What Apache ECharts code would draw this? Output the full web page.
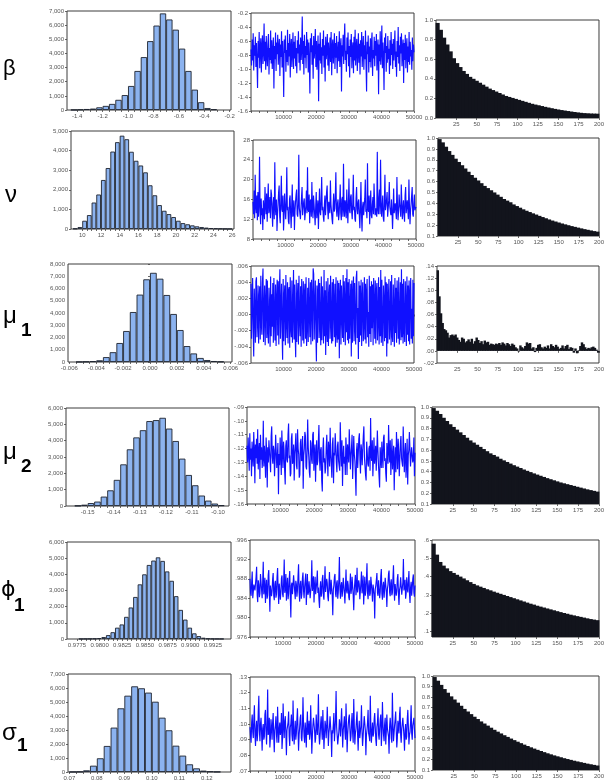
<!DOCTYPE html>
<html>
<head>
<meta charset="utf-8">
<script src="https://cdn.jsdelivr.net/npm/echarts@6/dist/echarts.min.js"></script>
<style>
  html, body { margin: 0; padding: 0; background: #fff; }
  #main { width: 607px; height: 781px; }
</style>
</head>
<body>
<div id="main"></div>
<script>
// histogram bins (centres) and counts
var betaBins = [-1.425,-1.375,-1.325,-1.275,-1.225,-1.175,-1.125,-1.075,-1.025,-0.975,-0.925,-0.875,-0.825,-0.775,-0.725,-0.675,-0.625,-0.575,-0.525,-0.475,-0.425,-0.375,-0.325];
var betaCounts = [10,30,70,100,190,290,430,720,1055,1700,2760,3740,4870,5970,6830,6400,5680,4340,2760,1440,550,140,50];

var nuBins = [9.25,9.75,10.25,10.75,11.25,11.75,12.25,12.75,13.25,13.75,14.25,14.75,15.25,15.75,16.25,16.75,17.25,17.75,18.25,18.75,19.25,19.75,20.25,20.75,21.25,21.75,22.25,22.75,23.25,23.75,24.25,24.75,25.25,25.75];
var nuCounts = [20,100,420,710,1350,1760,2500,3110,3950,4430,4760,4580,3940,3480,3240,2890,2230,1720,1220,930,760,610,420,300,240,185,135,100,70,45,30,18,10,5];

var mu1Bins = [-0.00525,-0.00475,-0.00425,-0.00375,-0.00325,-0.00275,-0.00225,-0.00175,-0.00125,-0.00075,-0.00025,0.00025,0.00075,0.00125,0.00175,0.00225,0.00275,0.00325,0.00375,0.00425,0.00475,0.00525];
var mu1Counts = [10,30,70,140,400,800,1550,2530,4080,5500,6750,7280,6800,5470,3920,2610,1300,700,330,160,80,30];

var mu2Bins = [-0.15375,-0.15125,-0.14875,-0.14625,-0.14375,-0.14125,-0.13875,-0.13625,-0.13375,-0.13125,-0.12875,-0.12625,-0.12375,-0.12125,-0.11875,-0.11625,-0.11375,-0.11125,-0.10875,-0.10625,-0.10375,-0.10125,-0.09875];
var mu2Counts = [20,80,180,270,575,960,1600,2550,3470,4200,4640,5200,5260,5400,4740,3980,2900,1900,1270,640,330,150,50];

var phi1Bins = [0.97795,0.97845,0.97895,0.97945,0.97995,0.98045,0.98095,0.98145,0.98195,0.98245,0.98295,0.98345,0.98395,0.98445,0.98495,0.98545,0.98595,0.98645,0.98695,0.98745,0.98795,0.98845,0.98895,0.98945,0.98995,0.99045,0.99095,0.99145,0.99195,0.99245,0.99295,0.99345];
var phi1Counts = [5,10,15,25,50,120,240,420,700,900,1370,1950,2600,3380,4000,4580,4850,5050,4830,4180,3600,2650,1800,1200,700,350,180,80,30,15,8,4];

var sigma1Bins = [0.07125,0.07375,0.07625,0.07875,0.08125,0.08375,0.08625,0.08875,0.09125,0.09375,0.09625,0.09875,0.10125,0.10375,0.10625,0.10875,0.11125,0.11375,0.11625,0.11875,0.12125,0.12375];
var sigma1Counts = [5,20,120,450,980,1860,3170,4550,5450,6120,5980,5670,5020,3880,2980,1880,1170,550,260,100,40,15];

// trace plots, 300 draws read across 0..50000 iterations
var betaTrace = [-.72,-.95,-.58,-.88,-.49,-1.02,-.66,-.81,-.54,-.97,
  -.63,-.90,-1.27,-.60,-.84,-.47,-.99,-.71,-.56,-1.05,
  -.68,-.52,-.93,-.75,-.35,-.89,-.61,-1.01,-.53,-.80,
  -.96,-.64,-.50,-1.08,-.70,-.87,-.45,-.92,-.59,-1.00,
  -.74,-.55,-1.28,-.67,-.86,-.48,-1.03,-.62,-.79,-.51,
  -.94,-.69,-.57,-1.10,-.65,-.83,-.46,-.98,-.60,-.88,
  -1.40,-.58,-.77,-.52,-1.04,-.73,-.90,-.44,-.95,-.63,
  -.82,-.50,-1.12,-.68,-.57,-.97,-.74,-.48,-1.00,-.61,
  -.85,-.53,-.96,-.70,-1.06,-.59,-.78,-.46,-.91,-.65,
  -1.02,-.55,-.87,-.72,-.25,-.93,-.60,-1.08,-.51,-.84,
  -.67,-.99,-.47,-.80,-.58,-1.05,-.62,-.89,-1.35,-.56,
  -.76,-.49,-.94,-.66,-1.14,-.53,-.85,-.71,-.43,-.97,
  -.60,-1.01,-.74,-.52,-1.46,-.64,-.88,-.48,-.92,-.69,
  -1.07,-.57,-.81,-.45,-.98,-.66,-1.18,-.54,-.86,-.73,
  -.50,-.95,-.62,-1.03,-.77,-.55,-.90,-.47,-1.09,-.68,
  -.58,-.92,-.72,-.49,-1.00,-.63,-.84,-.53,-1.06,-.75,
  -.61,-.89,-.46,-.97,-.70,-.56,-1.32,-.66,-.82,-.51,
  -.93,-.60,-.35,-.87,-.74,-1.04,-.55,-.79,-.48,-.96,
  -.67,-1.12,-.58,-.83,-.50,-.99,-.71,-.62,-1.06,-.54,
  -.88,-.44,-.95,-.69,-.57,-1.03,-.76,-.49,-.91,-.64,
  -1.08,-.59,-.82,-.47,-.97,-.72,-.53,-1.01,-.66,-.86,
  -.45,-.93,-1.32,-.61,-.79,-.52,-1.05,-.68,-.90,-.56,
  -.98,-.63,-.48,-1.10,-.73,-.85,-.54,-.96,-.60,-.81,
  -.50,-1.02,-.70,-.58,-1.36,-.65,-.89,-.46,-.94,-.74,
  -.38,-.99,-.62,-.84,-1.30,-.55,-.77,-.49,-1.04,-.67,
  -.91,-.53,-.86,-.71,-1.07,-.59,-.95,-.47,-.80,-.64,
  -1.00,-.57,-.88,-.69,-.45,-.97,-.75,-1.11,-.60,-.83,
  -.40,-.92,-.66,-1.03,-.54,-.78,-.49,-.96,-.72,-.58,
  -1.20,-.63,-.87,-.51,-.99,-.70,-.56,-1.05,-.68,-.90,
  -.47,-.94,-.61,-.82,-.73,-1.01,-.55,-.89,-.65,-.76];

var nuTrace = [15.5,13.0,17.8,12.2,21.0,14.5,13.2,16.8,11.8,17.5,
  12.5,15.0,24.6,13.5,11.0,16.2,12.8,14.2,9.8,15.8,
  16.0,12.0,18.5,14.8,13.0,17.2,11.5,15.5,19.2,13.2,
  14.0,16.5,12.2,18.0,17.0,13.5,10.5,15.2,16.5,12.0,
  23.5,14.2,12.8,16.0,9.6,13.0,15.0,17.5,18.8,12.5,
  11.2,15.8,20.8,14.0,13.5,16.8,9.7,12.8,17.2,14.5,
  12.0,15.2,22.5,13.8,14.5,11.5,11.0,16.0,16.8,13.2,
  10.2,14.8,19.0,12.5,13.2,15.8,9.8,13.5,15.5,17.0,
  18.0,13.0,12.5,15.2,25.0,14.2,14.0,12.0,11.8,16.5,
  18.5,12.8,13.0,15.5,16.2,11.8,11.5,14.8,17.8,13.2,
  22.5,14.0,13.5,17.0,11.2,15.5,16.0,12.5,19.5,14.2,
  12.2,16.8,15.0,13.0,10.8,14.5,17.5,12.2,13.8,15.8,
  10.0,14.2,18.2,13.5,12.8,16.0,20.5,13.8,14.5,12.5,
  11.5,15.0,16.8,12.8,13.0,17.5,18.8,14.0,12.0,15.5,
  15.2,13.2,19.8,15.0,13.5,12.0,11.0,14.8,17.2,13.5,
  14.2,16.8,21.5,14.0,12.5,15.2,16.0,11.8,13.0,15.5,
  19.0,13.2,11.8,16.0,16.5,12.5,23.2,14.0,12.5,15.8,
  14.8,12.2,18.0,14.5,11.2,15.0,20.2,13.8,13.2,16.5,
  17.0,13.5,12.0,15.2,21.0,13.8,14.5,12.0,11.5,16.2,
  18.5,14.0,13.0,15.5,16.0,12.8,10.2,14.2,19.5,13.0,
  9.5,14.5,15.5,12.8,12.8,16.2,20.0,13.5,14.0,12.2,
  23.3,14.0,13.5,16.8,11.0,14.5,17.8,12.8,12.2,15.0,
  16.5,13.0,19.2,15.8,12.8,14.2,14.5,12.5,25.6,14.0,
  13.0,16.5,18.0,13.0,24.0,15.2,12.5,14.8,16.8,12.2,
  11.5,15.5,21.0,13.8,14.0,16.0,17.5,12.5,12.2,15.8,
  19.5,14.5,13.5,12.8,16.0,13.5,10.0,14.0,18.2,13.2,
  12.8,15.2,15.5,12.0,20.5,14.8,11.8,13.5,17.0,15.0,
  14.2,12.5,19.0,15.5,12.0,14.0,15.8,13.0,11.5,16.8,
  18.5,13.2,13.0,15.8,16.2,12.0,20.0,14.5,11.0,13.8,
  15.0,16.8,18.5,13.0,12.5,15.2,17.0,13.8,14.0,14.5];

var mu1Trace = [.0038,-.0030,.0012,.0045,-.0018,-.0052,.0032,.0005,-.0035,.0041,
  .0046,-.0028,-.0008,.0036,-.0036,.0020,.0035,-.0031,.0048,-.0012,
  -.0025,.0040,.0057,-.0034,.0002,.0036,-.0038,.0015,.0044,-.0029,
  .0042,-.0020,-.0036,.0033,.0008,-.0040,.0047,-.0027,.0025,-.0015,
  .0039,-.0035,.0045,-.0005,-.0032,.0037,-.0039,.0018,.0043,-.0026,
  .0041,-.0037,.0028,.0056,-.0030,.0010,.0038,-.0022,-.0056,.0044,
  -.0033,.0022,.0036,-.0038,.0049,-.0010,-.0029,.0040,-.0036,.0030,
  .0034,-.0041,.0046,-.0016,-.0028,.0042,-.0035,.0008,.0055,-.0031,
  .0037,-.0025,-.0053,.0043,-.0034,.0020,.0039,-.0037,.0048,-.0006,
  -.0027,.0035,-.0040,.0044,.0012,-.0032,.0041,-.0036,.0026,.0038,
  -.0030,.0046,-.0039,-.0014,.0033,-.0034,.0045,.0004,-.0028,.0040,
  -.0037,.0043,.0018,-.0033,.0057,.0050,-.0031,.0010,.0042,-.0024,
  -.0058,.0036,-.0035,.0028,.0044,-.0029,.0039,-.0012,-.0038,.0047,
  -.0032,.0035,.0006,-.0036,.0055,-.0027,.0030,-.0050,.0041,-.0018,
  -.0034,.0045,-.0039,.0022,.0037,-.0030,.0048,-.0008,-.0036,.0040,
  -.0033,.0044,.0014,-.0028,.0038,-.0040,.0046,-.0020,-.0035,.0042,
  -.0031,.0039,-.0054,.0024,.0043,-.0037,.0036,.0002,-.0029,.0049,
  -.0034,.0041,.0016,-.0038,.0045,-.0022,.0056,-.0032,.0040,-.0036,
  .0044,-.0030,.0010,.0038,-.0052,.0042,-.0035,.0025,.0047,-.0033,
  .0039,-.0015,-.0037,.0045,.0054,-.0029,.0008,-.0055,.0041,-.0034,
  .0036,-.0026,.0043,-.0039,.0019,.0040,-.0033,-.0010,.0046,-.0031,
  .0038,-.0036,.0027,.0044,-.0028,.0003,-.0040,.0048,-.0024,.0035,
  -.0034,.0041,-.0017,.0037,-.0038,.0045,.0012,-.0030,.0042,-.0036,
  .0030,.0039,-.0032,-.0007,.0046,-.0037,.0034,-.0027,.0055,-.0035,
  .0043,-.0021,-.0039,.0036,.0015,-.0033,.0047,-.0029,.0040,-.0052,
  .0038,-.0036,.0021,.0044,-.0031,-.0011,.0041,-.0038,.0049,-.0026,
  -.0034,.0037,.0005,-.0040,.0045,-.0023,.0033,-.0035,.0042,.0017,
  -.0030,.0046,-.0037,-.0009,.0040,-.0032,.0056,-.0028,.0038,-.0036,
  .0044,-.0019,-.0034,.0041,.0013,-.0039,.0047,-.0025,.0036,-.0033,
  .0042,-.0037,.0024,.0045,-.0030,.0007,-.0036,.0043,-.0027,.0039];

var mu2Trace = [-.118,-.130,-.112,-.124,-.136,-.109,-.128,-.120,-.140,-.115,
  -.125,-.133,-.108,-.121,-.145,-.117,-.127,-.113,-.131,-.106,
  -.135,-.122,-.116,-.142,-.110,-.128,-.119,-.134,-.127,-.100,
  -.133,-.118,-.126,-.141,-.112,-.123,-.148,-.119,-.130,-.114,
  -.113,-.129,-.137,-.111,-.104,-.126,-.131,-.118,-.121,-.140,
  -.127,-.110,-.111,-.134,-.126,-.116,-.153,-.124,-.132,-.112,
  -.124,-.139,-.107,-.122,-.134,-.115,-.121,-.136,-.146,-.118,
  -.114,-.128,-.130,-.110,-.102,-.127,-.125,-.140,-.138,-.113,
  -.109,-.131,-.128,-.117,-.143,-.124,-.118,-.109,-.132,-.135,
  -.106,-.120,-.124,-.141,-.139,-.116,-.113,-.129,-.127,-.111,
  -.149,-.125,-.120,-.108,-.111,-.133,-.135,-.122,-.099,-.119,
  -.126,-.137,-.141,-.114,-.116,-.128,-.131,-.110,-.108,-.136,
  -.123,-.117,-.144,-.126,-.114,-.132,-.129,-.115,-.103,-.127,
  -.136,-.121,-.119,-.143,-.151,-.122,-.112,-.130,-.127,-.138,
  -.134,-.119,-.110,-.127,-.140,-.115,-.121,-.133,-.105,-.124,
  -.131,-.141,-.117,-.112,-.145,-.123,-.125,-.109,-.108,-.130,
  -.137,-.118,-.115,-.129,-.128,-.136,-.101,-.120,-.133,-.114,
  -.147,-.126,-.118,-.131,-.126,-.139,-.112,-.122,-.139,-.117,
  -.122,-.130,-.106,-.119,-.135,-.125,-.119,-.110,-.142,-.128,
  -.111,-.124,-.129,-.140,-.154,-.121,-.116,-.134,-.124,-.113,
  -.109,-.128,-.138,-.117,-.121,-.132,-.131,-.111,-.104,-.126,
  -.127,-.139,-.143,-.115,-.114,-.131,-.133,-.120,-.118,-.136,
  -.098,-.125,-.129,-.114,-.140,-.127,-.112,-.131,-.125,-.118,
  -.136,-.123,-.107,-.121,-.132,-.140,-.148,-.119,-.120,-.134,
  -.115,-.126,-.134,-.112,-.110,-.129,-.127,-.138,-.144,-.116,
  -.117,-.131,-.103,-.122,-.130,-.114,-.139,-.126,-.113,-.135,
  -.126,-.118,-.150,-.129,-.119,-.137,-.108,-.121,-.135,-.113,
  -.122,-.140,-.141,-.116,-.111,-.127,-.128,-.133,-.104,-.120,
  -.137,-.124,-.116,-.141,-.131,-.113,-.146,-.125,-.121,-.108,
  -.109,-.133,-.134,-.119,-.118,-.130,-.127,-.112,-.140,-.123];

var phi1Trace = [.9880,.9851,.9845,.9872,.9895,.9840,.9838,.9868,.9872,.9856,
  .9852,.9884,.9905,.9846,.9832,.9877,.9868,.9842,.9850,.9890,
  .9889,.9857,.9840,.9874,.9915,.9848,.9858,.9882,.9830,.9861,
  .9878,.9839,.9846,.9887,.9898,.9853,.9812,.9866,.9870,.9844,
  .9855,.9879,.9892,.9845,.9836,.9869,.9876,.9841,.9848,.9883,
  .9902,.9857,.9828,.9870,.9866,.9837,.9853,.9881,.9887,.9849,
  .9842,.9873,.9920,.9851,.9860,.9890,.9835,.9862,.9882,.9838,
  .9850,.9879,.9896,.9844,.9800,.9866,.9872,.9848,.9845,.9887,
  .9885,.9854,.9838,.9876,.9869,.9843,.9856,.9884,.9910,.9852,
  .9833,.9868,.9876,.9839,.9849,.9881,.9893,.9856,.9840,.9863,
  .9864,.9891,.9826,.9858,.9890,.9847,.9852,.9875,.9879,.9840,
  .9843,.9870,.9918,.9855,.9858,.9885,.9831,.9862,.9884,.9848,
  .9847,.9874,.9897,.9851,.9862,.9836,.9820,.9860,.9875,.9843,
  .9851,.9880,.9888,.9845,.9837,.9871,.9906,.9853,.9855,.9880,
  .9871,.9843,.9834,.9866,.9894,.9856,.9848,.9878,.9880,.9846,
  .9805,.9858,.9866,.9884,.9890,.9849,.9842,.9871,.9877,.9839,
  .9853,.9878,.9925,.9858,.9839,.9866,.9873,.9843,.9857,.9882,
  .9886,.9851,.9829,.9864,.9899,.9855,.9850,.9876,.9867,.9842,
  .9836,.9865,.9891,.9849,.9859,.9884,.9882,.9846,.9815,.9857,
  .9874,.9888,.9846,.9860,.9903,.9852,.9852,.9877,.9869,.9838,
  .9840,.9872,.9895,.9850,.9862,.9887,.9827,.9856,.9884,.9845,
  .9856,.9880,.9912,.9851,.9838,.9866,.9877,.9845,.9850,.9884,
  .9888,.9854,.9833,.9868,.9870,.9848,.9798,.9859,.9866,.9878,
  .9892,.9851,.9845,.9877,.9880,.9840,.9853,.9885,.9900,.9849,
  .9837,.9866,.9874,.9841,.9859,.9882,.9886,.9853,.9822,.9859,
  .9868,.9890,.9897,.9852,.9844,.9871,.9879,.9846,.9851,.9880,
  .9908,.9860,.9835,.9869,.9872,.9845,.9855,.9881,.9890,.9848,
  .9826,.9857,.9864,.9883,.9885,.9847,.9848,.9873,.9921,.9856,
  .9858,.9878,.9839,.9850,.9883,.9861,.9852,.9876,.9896,.9849,
  .9830,.9862,.9874,.9845,.9861,.9880,.9889,.9851,.9843,.9866];

var sigma1Trace = [.098,.092,.088,.101,.106,.095,.091,.104,.112,.093,
  .086,.097,.102,.089,.094,.108,.118,.096,.089,.100,
  .104,.094,.083,.097,.100,.090,.092,.106,.109,.095,
  .087,.099,.122,.093,.095,.104,.085,.091,.103,.098,
  .090,.101,.107,.092,.082,.096,.099,.105,.093,.088,
  .111,.098,.088,.097,.101,.093,.096,.107,.084,.091,
  .113,.099,.091,.102,.105,.094,.080,.096,.097,.101,
  .108,.092,.086,.098,.100,.106,.093,.089,.115,.097,
  .087,.095,.102,.090,.094,.103,.110,.096,.083,.093,
  .098,.104,.106,.091,.089,.097,.117,.100,.092,.088,
  .101,.096,.085,.099,.108,.093,.095,.102,.090,.094,
  .112,.097,.081,.092,.099,.104,.104,.096,.088,.091,
  .106,.098,.093,.101,.119,.094,.087,.092,.100,.105,
  .096,.090,.109,.097,.084,.093,.102,.099,.091,.098,
  .111,.099,.086,.094,.098,.105,.105,.093,.079,.096,
  .094,.100,.107,.089,.090,.103,.121,.098,.097,.087,
  .088,.095,.103,.099,.092,.091,.110,.097,.085,.096,
  .100,.105,.095,.090,.113,.099,.082,.093,.099,.104,
  .106,.097,.089,.092,.101,.107,.094,.088,.116,.099,
  .087,.094,.097,.103,.108,.093,.083,.096,.102,.091,
  .091,.099,.112,.095,.086,.092,.099,.105,.105,.096,
  .080,.093,.096,.101,.109,.094,.092,.089,.118,.098,
  .088,.095,.101,.092,.094,.103,.107,.098,.090,.086,
  .098,.101,.110,.093,.090,.097,.103,.106,.086,.094,
  .114,.100,.093,.089,.100,.104,.087,.095,.106,.097,
  .096,.092,.081,.098,.104,.099,.091,.088,.120,.101,
  .089,.094,.099,.103,.108,.096,.085,.091,.102,.098,
  .094,.106,.111,.093,.088,.097,.097,.104,.105,.092,
  .083,.096,.100,.090,.092,.103,.109,.098,.087,.093,
  .095,.101,.112,.094,.090,.099,.098,.104,.097,.091];

// autocorrelations, lags 2,6,...,198 (mu1: lags 1,3,...,199)
var betaAcf = [0.97,0.90,0.82,0.75,0.68,0.61,0.56,0.52,0.48,0.45,0.42,0.40,0.38,0.36,0.34,0.32,0.30,0.285,0.27,0.255,
  0.24,0.225,0.215,0.205,0.195,0.185,0.175,0.165,0.155,0.145,0.137,0.13,0.122,0.114,0.107,0.10,0.093,0.087,0.081,0.076,
  0.071,0.066,0.061,0.057,0.053,0.05,0.048,0.046,0.045,0.044];
var nuAcf = [0.99,0.96,0.92,0.88,0.845,0.81,0.78,0.75,0.72,0.69,0.66,0.635,0.61,0.585,0.56,0.54,0.52,0.50,0.48,0.46,
  0.44,0.425,0.41,0.39,0.375,0.36,0.345,0.332,0.32,0.308,0.297,0.285,0.274,0.263,0.252,0.242,0.233,0.224,0.215,0.207,
  0.199,0.191,0.184,0.177,0.17,0.163,0.157,0.151,0.145,0.14];
var mu1Acf = [.133,.090,.062,.046,.036,.034,.030,.022,.026,.027,.025,.027,.022,.018,.015,.022,.020,.014,.016,.019,
  .015,.020,.012,.016,.022,.018,.013,.016,.011,.017,.014,.015,.010,.012,.011,.010,.012,.011,.013,.010,
  .014,.012,.009,.013,.011,.008,.012,.010,.006,.004,-.001,.009,.006,.004,.008,.014,.012,.013,.004,.006,
  -.002,.005,.010,.011,.006,.004,.007,.005,.009,.004,.011,.008,.006,.010,.007,.003,.005,.009,.004,.008,
  .010,.003,.006,.005,-.003,.004,-.004,.001,.008,.014,.011,.006,.003,.005,.004,.006,.007,.005,.002,-.003];
var mu2Acf = [0.99,0.965,0.935,0.90,0.87,0.84,0.815,0.79,0.765,0.74,0.715,0.69,0.67,0.65,0.63,0.61,0.59,0.57,0.555,0.54,
  0.52,0.505,0.49,0.475,0.46,0.447,0.434,0.42,0.408,0.396,0.384,0.373,0.362,0.351,0.34,0.33,0.32,0.31,0.30,0.292,
  0.284,0.276,0.268,0.26,0.252,0.244,0.236,0.229,0.222,0.215];
var phi1Acf = [0.58,0.52,0.48,0.46,0.445,0.43,0.42,0.41,0.40,0.39,0.38,0.37,0.36,0.352,0.345,0.338,0.331,0.325,0.318,0.312,
  0.306,0.30,0.294,0.288,0.282,0.276,0.27,0.264,0.258,0.252,0.247,0.241,0.236,0.231,0.226,0.221,0.216,0.211,0.206,0.201,
  0.197,0.192,0.188,0.184,0.18,0.176,0.172,0.168,0.165,0.162];
var sigma1Acf = [0.99,0.955,0.915,0.875,0.84,0.805,0.775,0.745,0.715,0.685,0.66,0.635,0.61,0.588,0.565,0.545,0.525,0.505,0.485,0.467,
  0.45,0.433,0.417,0.401,0.386,0.371,0.357,0.343,0.33,0.317,0.305,0.293,0.282,0.271,0.26,0.25,0.24,0.231,0.222,0.213,
  0.205,0.197,0.189,0.182,0.175,0.168,0.161,0.155,0.149,0.143];

// tick labels
var betaXTicks = [-1.4,-1.2,-1.0,-0.8,-0.6,-0.4,-0.2];
var nuXTicks = [10,12,14,16,18,20,22,24,26];
var mu1XTicks = [-0.006,-0.004,-0.002,0,0.002,0.004,0.006];
var mu2XTicks = [-0.15,-0.14,-0.13,-0.12,-0.11,-0.10];
var phi1XTicks = [0.9775,0.98,0.9825,0.985,0.9875,0.99,0.9925];
var sigma1XTicks = [0.07,0.08,0.09,0.10,0.11,0.12];
var iterTicks = [10000,20000,30000,40000,50000];
var lagTicks = [25,50,75,100,125,150,175,200];
var betaTraceTicks = [-1.6,-1.4,-1.2,-1.0,-0.8,-0.6,-0.4,-0.2];
var nuTraceTicks = [8,12,16,20,24,28];
var mu1TraceTicks = [-0.006,-0.004,-0.002,0,0.002,0.004,0.006];
var mu2TraceTicks = [-0.16,-0.15,-0.14,-0.13,-0.12,-0.11,-0.10,-0.09];
var phi1TraceTicks = [0.976,0.980,0.984,0.988,0.992,0.996];
var sigma1TraceTicks = [0.07,0.08,0.09,0.10,0.11,0.12,0.13];
var acfTicks01 = [0.0,0.2,0.4,0.6,0.8,1.0];
var acfTicks10 = [0.1,0.2,0.3,0.4,0.5,0.6,0.7,0.8,0.9,1.0];
var mu1AcfTicks = [-0.02,0,0.02,0.04,0.06,0.08,0.10,0.12,0.14];
var phi1AcfTicks = [0.1,0.2,0.3,0.4,0.5,0.6];

var FONT = 'Liberation Sans';
var grids = [], xAxes = [], yAxes = [], series = [];

function fixed(d) {
  return function (v) { return (Math.abs(v) < 1e-12 ? 0 : v).toFixed(d); };
}
function dotted(d) {
  return function (v) { return (Math.abs(v) < 1e-12 ? 0 : v).toFixed(d).replace(/^(-?)0\./, '$1.'); };
}
function thousands(v) { return v.toLocaleString('en-US'); }
function upTo(max, step) {
  var out = [];
  for (var v = 0; v <= max; v += step) out.push(v);
  return out;
}
function subdivide(t, n) {
  var out = [];
  for (var i = 0; i < t.length - 1; i++)
    for (var j = 0; j < n; j++) out.push(t[i] + (t[i + 1] - t[i]) * j / n);
  out.push(t[t.length - 1]);
  return out;
}

function axis(gi, a) {
  return {
    gridIndex: gi, type: 'value', min: a.min, max: a.max, scale: true,
    axisLine: {show: false},
    splitLine: {show: false},
    axisTick: {show: true, length: 2, inside: false, customValues: a.ticks || a.labels, lineStyle: {color: '#444', width: 0.8}},
    axisLabel: {fontSize: 6, color: '#555', fontFamily: FONT, margin: 3, customValues: a.labels, formatter: a.fmt, hideOverlap: false}
  };
}

function panel(rect, xa, ya, s) {
  var gi = grids.length;
  grids.push({left: rect[0], top: rect[1], width: rect[2], height: rect[3], show: true, borderColor: '#3c3c3c', borderWidth: 1, containLabel: false});
  xAxes.push(axis(gi, xa));
  yAxes.push(axis(gi, ya));
  s.xAxisIndex = gi;
  s.yAxisIndex = gi;
  s.silent = true;
  series.push(s);
}

function hist(rect, bins, counts, xa, ymax) {
  panel(rect, xa, {min: 0, max: ymax, labels: upTo(ymax, 1000), fmt: thousands}, {
    type: 'bar', barCategoryGap: '0%', barGap: '0%',
    data: bins.map(function (b, i) { return [b, counts[i]]; }),
    itemStyle: {color: '#8cb3ef', borderColor: '#1e2430', borderWidth: 0.9}
  });
}

function trace(rect, vals, ya) {
  var step = 50000 / (vals.length - 1);
  panel(rect, {min: 0, max: 50000, labels: iterTicks, ticks: subdivide([0].concat(iterTicks), 4), fmt: fixed(0)}, ya, {
    type: 'line', showSymbol: false, symbol: 'none', sampling: null,
    data: vals.map(function (v, i) { return [i * step, v]; }),
    lineStyle: {color: '#1010ff', width: 1.15, join: 'bevel'}
  });
}

function acf(rect, vals, ya, first, gap) {
  panel(rect, {min: 0, max: 200, labels: lagTicks, fmt: fixed(0)}, ya, {
    type: 'bar', barGap: '0%',
    barWidth: rect[2] * gap / 200 + 0.8,
    data: vals.map(function (v, i) { return [first + gap * i, v]; }),
    itemStyle: {color: '#12141c'}
  });
}

// row 1: beta
hist([67, 11, 164, 99], betaBins, betaCounts, {min: -1.48, max: -0.19, labels: betaXTicks, ticks: subdivide(betaXTicks, 4), fmt: fixed(1)}, 7000);
trace([251, 13, 163, 98], betaTrace, {min: -1.6, max: -0.2, labels: betaTraceTicks, fmt: fixed(1)});
acf([436, 20, 165, 98], betaAcf, {min: 0, max: 1, labels: acfTicks01, fmt: fixed(1)}, 2, 4);
// row 2: nu
hist([71, 131, 163, 98], nuBins, nuCounts, {min: 8.8, max: 26.2, labels: nuXTicks, ticks: subdivide(nuXTicks, 4), fmt: fixed(0)}, 5000);
trace([253, 140, 163, 99], nuTrace, {min: 8, max: 28, labels: nuTraceTicks, fmt: fixed(0)});
acf([438, 138, 164, 98], nuAcf, {min: 0.1, max: 1, labels: acfTicks10, fmt: fixed(1)}, 2, 4);
// row 3: mu1
hist([68, 264, 164, 98], mu1Bins, mu1Counts, {min: -0.0061, max: 0.0061, labels: mu1XTicks, ticks: subdivide(mu1XTicks, 4), fmt: fixed(3)}, 8000);
trace([251, 266, 163, 97], mu1Trace, {min: -0.006, max: 0.006, labels: mu1TraceTicks, fmt: dotted(3)});
acf([437, 266, 165, 97], mu1Acf, {min: -0.02, max: 0.14, labels: mu1AcfTicks, fmt: dotted(2)}, 1, 2);
// row 4: mu2
hist([66, 408, 163, 98], mu2Bins, mu2Counts, {min: -0.1583, max: -0.0958, labels: mu2XTicks, ticks: subdivide(mu2XTicks, 4), fmt: fixed(2)}, 6000);
trace([247, 407, 168, 97], mu2Trace, {min: -0.16, max: -0.09, labels: mu2TraceTicks, fmt: dotted(2)});
acf([432, 407, 169, 97], mu2Acf, {min: 0.1, max: 1, labels: acfTicks10, fmt: fixed(1)}, 2, 4);
// row 5: phi1
hist([67, 542, 164, 97], phi1Bins, phi1Counts, {min: 0.9764, max: 0.9945, labels: phi1XTicks, ticks: subdivide(phi1XTicks, 5), fmt: fixed(4)}, 6000);
trace([250, 540, 165, 97], phi1Trace, {min: 0.976, max: 0.996, labels: phi1TraceTicks, fmt: dotted(3)});
acf([432, 540, 168, 97], phi1Acf, {min: 0.07, max: 0.6, labels: phi1AcfTicks, fmt: dotted(1)}, 2, 4);
// row 6: sigma1
hist([68, 674, 163, 98], sigma1Bins, sigma1Counts, {min: 0.0695, max: 0.1288, labels: sigma1XTicks, ticks: subdivide(sigma1XTicks, 4), fmt: fixed(2)}, 7000);
trace([250, 677, 165, 94], sigma1Trace, {min: 0.07, max: 0.13, labels: sigma1TraceTicks, fmt: dotted(2)});
acf([433, 676, 168, 94], sigma1Acf, {min: 0.1, max: 1, labels: acfTicks10, fmt: fixed(1)}, 2, 4);

// parameter names on the left
var names = [
  {t: 'β', x: 3, y: 69, s: 22},
  {t: 'ν', x: 5, y: 195, s: 24},
  {t: 'μ', x: 3, y: 316, s: 24}, {t: '1', x: 21, y: 331, s: 19, b: 1},
  {t: 'μ', x: 3, y: 452, s: 24}, {t: '2', x: 21, y: 467, s: 19, b: 1},
  {t: 'ϕ', x: 1, y: 590, s: 22, f: 'DejaVu Sans'}, {t: '1', x: 14, y: 606, s: 19, b: 1},
  {t: 'σ', x: 2, y: 733, s: 24}, {t: '1', x: 17, y: 746, s: 19, b: 1}
];

var chart = echarts.init(document.getElementById('main'));
chart.setOption({
  animation: false,
  backgroundColor: '#fff',
  grid: grids,
  xAxis: xAxes,
  yAxis: yAxes,
  series: series,
  graphic: names.map(function (n) {
    return {
      type: 'text', x: n.x, y: n.y, silent: true,
      style: {text: n.t, fill: '#000', verticalAlign: 'middle', font: (n.b ? 'bold ' : '') + n.s + 'px "' + (n.f || 'Liberation Sans') + '"'}
    };
  })
});
</script>
</body>
</html>
